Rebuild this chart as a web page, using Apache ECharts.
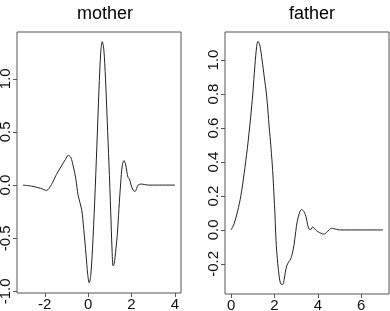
<!DOCTYPE html>
<html>
<head>
<meta charset="utf-8">
<script src="https://cdn.jsdelivr.net/npm/echarts@6/dist/echarts.min.js"></script>
<style>
  html, body { margin: 0; padding: 0; background: #fff; }
  #chart { width: 390px; height: 311px; }
</style>
</head>
<body>
<div id="chart"></div>
<script>
// mother wavelet
const motherX = [-3.0, -2.6, -2.2, -1.92, -1.69, -1.46, -1.23, -1.05, -0.92, -0.8, -0.69, -0.57, -0.46, -0.3,
  -0.2, -0.1, -0.02, 0.05, 0.12, 0.2, 0.3, 0.4, 0.5, 0.58, 0.65, 0.72, 0.8, 0.88, 0.96, 1.04, 1.1, 1.15,
  1.2, 1.28, 1.35, 1.42, 1.5, 1.57, 1.65, 1.72, 1.78, 1.84, 1.9, 1.98, 2.08, 2.16, 2.24, 2.3, 2.45, 2.6,
  2.8, 3.2, 4.0]
const motherY = [0.0, -0.01, -0.03, -0.05, 0.005, 0.1, 0.18, 0.24, 0.28, 0.26, 0.18, 0.06, -0.1, -0.23,
  -0.42, -0.65, -0.84, -0.92, -0.85, -0.6, -0.16, 0.36, 0.9, 1.25, 1.35, 1.28, 1.0, 0.6, 0.2, -0.25, -0.6, -0.76,
  -0.74, -0.6, -0.45, -0.22, 0.02, 0.18, 0.23, 0.2, 0.13, 0.07, 0.06, 0.0, -0.05, -0.06, -0.03, 0.0, 0.01, 0.005,
  0.0, 0.0, 0.0]

// father (scaling) function
const fatherX = [0, 0.15, 0.3, 0.45, 0.6, 0.75, 0.9, 1.0, 1.1, 1.18, 1.24, 1.32, 1.43, 1.53, 1.63, 1.7,
  1.76, 1.83, 1.89, 1.94, 1.98, 2.02, 2.05, 2.1, 2.17, 2.25, 2.32, 2.39, 2.45, 2.5, 2.57, 2.65, 2.75, 2.82,
  2.9, 2.98, 3.05, 3.15, 3.25, 3.35, 3.45, 3.53, 3.6, 3.68, 3.76, 3.82, 3.9, 4.0, 4.15, 4.28, 4.4, 4.52,
  4.62, 4.72, 4.85, 5.0, 6.0, 7.0]
const fatherY = [0, 0.04, 0.11, 0.2, 0.33, 0.48, 0.66, 0.8, 0.97, 1.08, 1.11, 1.09, 1.0, 0.9, 0.8, 0.7,
  0.6, 0.5, 0.4, 0.3, 0.2, 0.1, 0.0, -0.12, -0.22, -0.3, -0.32, -0.32, -0.29, -0.25, -0.21, -0.19, -0.17, -0.14,
  -0.09, -0.01, 0.05, 0.1, 0.12, 0.11, 0.08, 0.03, 0.005, 0.003, 0.018, 0.012, 0.0, -0.01, -0.02, -0.025, -0.015, 0.0,
  0.01, 0.008, 0.004, 0.0, 0.0, 0.0]

const motherXTicks = [-2, 0, 2, 4]
const motherYTicks = [-1, -0.5, 0, 0.5, 1]
const fatherXTicks = [0, 2, 4, 6]
const fatherYTicks = [-0.2, 0, 0.2, 0.4, 0.6, 0.8, 1.0]

const font = "'Liberation Sans', Arial, Helvetica, sans-serif"
const boxColor = "#555"

const chart = echarts.init(document.getElementById("chart"))

const xAxisFor = (idx, min, max, ticks) => ({
  type: "value", gridIndex: idx, min, max,
  axisLine: { show: false, onZero: false },
  splitLine: { show: false },
  axisTick: { show: true, length: 4, customValues: ticks, lineStyle: { color: boxColor } },
  axisLabel: { customValues: ticks, margin: 4, fontSize: 15, color: "#111", fontFamily: font,
    formatter: (v) => String(v) },
})
const yAxisFor = (idx, min, max, ticks) => ({
  type: "value", gridIndex: idx, min, max,
  axisLine: { show: false, onZero: false },
  splitLine: { show: false },
  axisTick: { show: true, length: 4, customValues: ticks, lineStyle: { color: boxColor } },
  axisLabel: { customValues: ticks, margin: 4, rotate: 90, fontSize: 15, color: "#111", fontFamily: font,
    formatter: (v) => v.toFixed(1) },
})

chart.setOption({
  animation: false,
  title: [
    { text: "mother", left: 100, top: 0, textAlign: "center",
      textStyle: { fontSize: 18, fontWeight: "normal", color: "#000", fontFamily: font } },
    { text: "father", left: 307, top: 0, textAlign: "center",
      textStyle: { fontSize: 18, fontWeight: "normal", color: "#000", fontFamily: font } },
  ],
  grid: [
    { left: 17, top: 32, width: 164, height: 261, show: true, borderColor: boxColor, borderWidth: 1,
      outerBoundsMode: "none" },
    { left: 225, top: 32, width: 164, height: 262, show: true, borderColor: boxColor, borderWidth: 1,
      outerBoundsMode: "none" },
  ],
  xAxis: [
    xAxisFor(0, -3.28, 4.28, motherXTicks),
    xAxisFor(1, -0.28, 7.28, fatherXTicks),
  ],
  yAxis: [
    yAxisFor(0, -1.015, 1.44, motherYTicks),
    yAxisFor(1, -0.377, 1.165, fatherYTicks),
  ],
  series: [
    { type: "line", xAxisIndex: 0, yAxisIndex: 0, showSymbol: false, smooth: 0.3,
      lineStyle: { color: "#222", width: 1 },
      data: motherX.map((x, i) => [x, motherY[i]]) },
    { type: "line", xAxisIndex: 1, yAxisIndex: 1, showSymbol: false, smooth: 0.3,
      lineStyle: { color: "#222", width: 1 },
      data: fatherX.map((x, i) => [x, fatherY[i]]) },
  ],
})
</script>
</body>
</html>
